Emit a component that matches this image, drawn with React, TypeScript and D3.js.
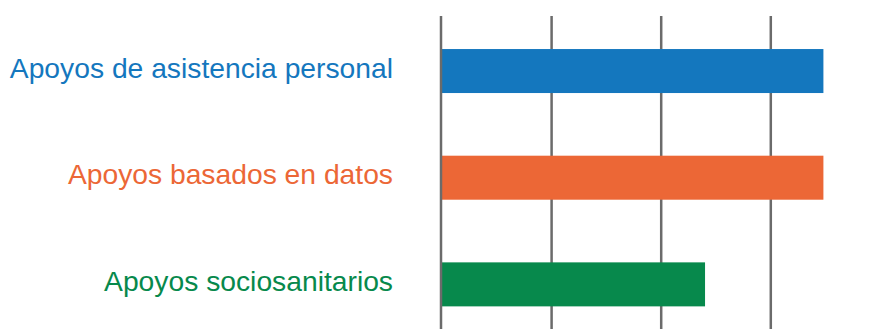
import React from "react";
import * as d3 from "d3";

const categories = ["Apoyos de asistencia personal", "Apoyos basados en datos", "Apoyos sociosanitarios"];
const values = [87, 87, 60];
const colors = ["#1477be", "#ec6736", "#07894c"];
const ticks = [0, 25, 50, 75];

const W = 869;
const H = 329;

export default function App() {
  const x = d3.scaleLinear().domain([0, 25]).range([442, 551.6]);
  const y = d3
    .scaleBand<string>()
    .domain(categories)
    .range([17.7, 337.7])
    .paddingInner(0.5875)
    .paddingOuter(0.29375);

  return (
    <svg
      width={W}
      height={H}
      style={{ position: "absolute", left: 0, top: 0, background: "#fff" }}
      fontFamily="'Liberation Sans', Arial, sans-serif"
    >
      {ticks.slice(1).map((t) => (
        <line key={t} x1={x(t)} x2={x(t)} y1={16} y2={H} stroke="#6b6b6b" strokeWidth={2.5} />
      ))}
      {categories.map((c, i) => (
        <rect
          key={c}
          x={x(0)}
          y={y(c)}
          width={x(values[i]) - x(0)}
          height={y.bandwidth()}
          fill={colors[i]}
        />
      ))}
      <line x1={x(0) - 1} x2={x(0) - 1} y1={16} y2={H} stroke="#6b6b6b" strokeWidth={2.5} />
      {categories.map((c, i) => (
        <text
          key={c}
          x={393}
          y={(y(c) as number) + y.bandwidth() / 2 + 6.5}
          textAnchor="end"
          fontSize={28.25}
          fill={colors[i]}
        >
          {c}
        </text>
      ))}
    </svg>
  );
}
